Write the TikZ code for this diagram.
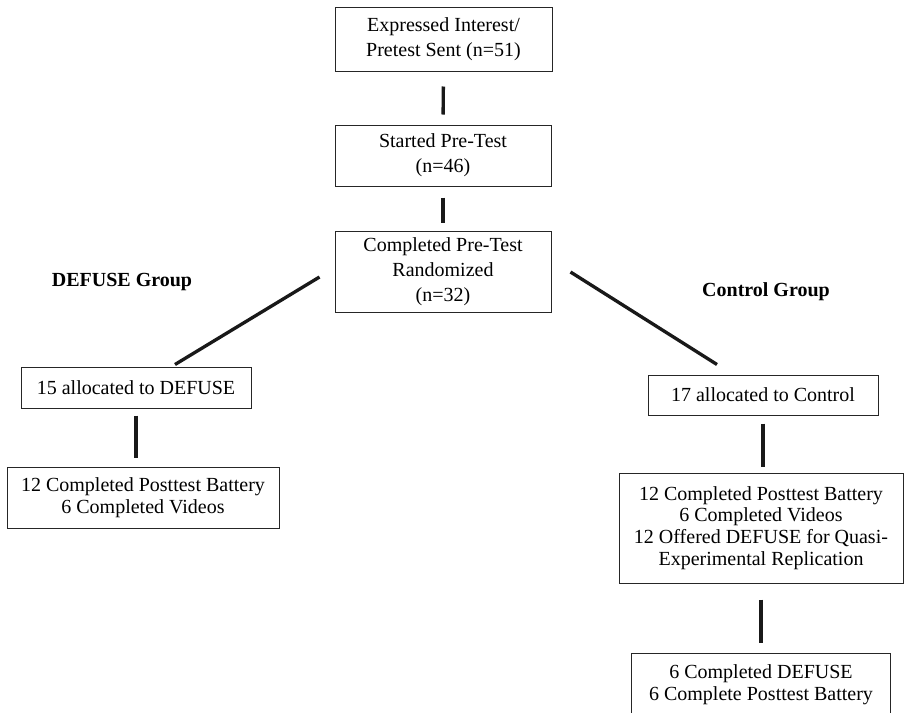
\documentclass[tikz,border=0pt]{standalone}
\usepackage{fontspec}
\setmainfont{Liberation Serif}
\usetikzlibrary{calc}
\begin{document}
\begin{tikzpicture}[x=0.6pt,y=-0.6pt,
  box/.style={draw=black!85,line width=0.6pt,align=center,inner sep=0pt,font=\fontsize{12}{15}\selectfont},
  lowbox/.style={box,font=\fontsize{12}{13}\selectfont},
  link/.style={line width=2pt,black!90},
  grp/.style={font=\fontsize{12}{15}\selectfont\bfseries}]
\useasboundingbox (0,0) rectangle (904,712);
% nodes
\node [box,minimum width=130.2pt,minimum height=38.4pt] (sent) at (443.5,39) {Expressed Interest/\\Pretest Sent (n=51)};
\node [box,minimum width=129.6pt,minimum height=36.6pt] (started) at (443,155.5) {Started Pre-Test\\(n=46)};
\node [box,minimum width=129.6pt,minimum height=48.6pt] (rand) at (443,271.5) {Completed Pre-Test\\Randomized\\(n=32)};

\node [lowbox,minimum width=138pt,minimum height=24.6pt] (defuse) at (136,387.5) {15 allocated to DEFUSE};
\node [lowbox,minimum width=163.2pt,minimum height=36.6pt] (dpost) at (143,497.5) {12 Completed Posttest Battery\\6 Completed Videos};

\node [lowbox,minimum width=138pt,minimum height=24pt] (control) at (763,395) {17 allocated to Control};
\node [lowbox,minimum width=170.4pt,minimum height=66pt] (cpost) at (761,528) {12 Completed Posttest Battery\\6 Completed Videos\\12 Offered DEFUSE for Quasi-\\Experimental Replication};
\node [lowbox,minimum width=155.4pt,minimum height=37.8pt] (quasi) at (761,684.5) {6 Completed DEFUSE\\6 Complete Posttest Battery};

\node [grp] (dgroup) at (122,282) {DEFUSE Group};
\node [grp] (cgroup) at (766,292) {Control Group};

% links
\draw [link,shorten <=9pt,shorten >=6pt] (sent.south) -- (started.north);
\draw [link,shorten <=6.6pt,shorten >=4.8pt] (started.south) -- (rand.north);
\draw [link] ($(rand.west)+(-15,5.5)$) -- ($(defuse.north)+(39,-2)$);
\draw [link] ($(rand.east)+(19,0.5)$) -- ($(control.north)+(-46,-10)$);
\draw [link,shorten <=4.2pt,shorten >=5.4pt] (defuse.south) -- (defuse.south |- dpost.north);
\draw [link,shorten <=4.8pt,shorten >=3.6pt] (control.south) -- (control.south |- cpost.north);
\draw [link,shorten <=9.6pt,shorten >=6pt] (cpost.south) -- (cpost.south |- quasi.north);

\end{tikzpicture}
\end{document}
